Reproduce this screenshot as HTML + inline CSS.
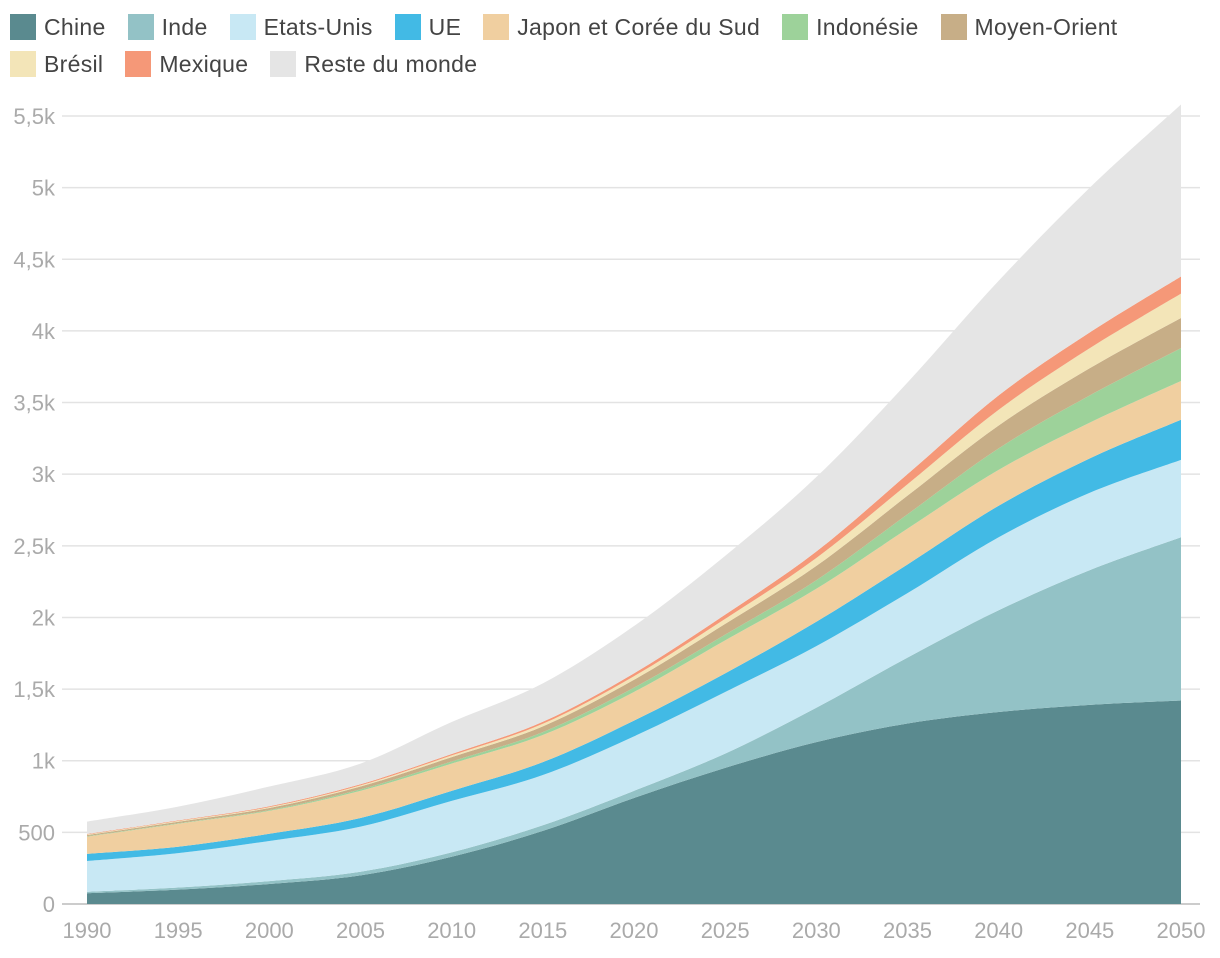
<!DOCTYPE html>
<html><head><meta charset="utf-8"><style>
body{margin:0;background:#fff;font-family:"Liberation Sans",sans-serif;}
.legend{position:absolute;left:10px;top:9px;width:1210px;font-size:23px;color:#444;letter-spacing:0.3px;}
.li{display:inline-flex;align-items:center;margin-right:22px;height:36px;}
.sw{width:26px;height:26px;margin-right:8px;display:inline-block;}
</style></head><body>
<div class="legend" id="legend"></div>
<svg id="chart" width="1220" height="958" style="position:absolute;left:0;top:0"></svg>
<script>
const years=[1990,1995,2000,2005,2010,2015,2020,2025,2030,2035,2040,2045,2050];
const seriesNames=["Chine","Inde","Etats-Unis","UE","Japon et Corée du Sud","Indonésie","Moyen-Orient","Brésil","Mexique","Reste du monde"];
const chine=[75,100,140,200,330,510,740,950,1130,1260,1340,1390,1420];
const inde=[10,15,20,25,30,40,50,100,240,460,710,940,1140];
const usa=[215,240,280,315,360,350,380,430,430,450,510,540,540];
const ue=[50,45,50,60,70,90,110,130,170,200,220,240,280];
const japon=[120,160,160,190,190,190,200,230,230,250,250,250,270];
const indonesie=[3,4,5,10,15,20,30,40,60,100,150,190,230];
const moyenOrient=[8,10,15,20,30,40,55,75,100,130,160,190,210];
const bresil=[4,5,6,8,12,18,25,35,55,80,110,140,170];
const mexique=[4,5,6,8,10,14,20,30,45,70,100,110,120];
const reste=[86,96,138,144,223,268,330,410,520,640,800,1010,1200];
const yTicks=[0,500,1000,1500,2000,2500,3000,3500,4000,4500,5000,5500];
const yTickLabels=["0","500","1k","1,5k","2k","2,5k","3k","3,5k","4k","4,5k","5k","5,5k"];
const xTicks=[1990,1995,2000,2005,2010,2015,2020,2025,2030,2035,2040,2045,2050];
const colors=["#5a8a8f","#93c2c6","#c8e8f4","#42bae5","#f0cfa0","#9dd29a","#c7ae87","#f3e5b8","#f59878","#e5e5e5"];
const series=[chine,inde,usa,ue,japon,indonesie,moyenOrient,bresil,mexique,reste];
const slugs=["chine","inde","etats-unis","ue","japon-coree","indonesie","moyen-orient","bresil","mexique","reste-du-monde"];
const x=v=>87+(v-1990)*(1181-87)/60;
const y=v=>904-v*(904-116)/5500;
const NS="http://www.w3.org/2000/svg";
const svg=document.getElementById('chart');
function mk(t,a){const e=document.createElementNS(NS,t);for(const k in a)e.setAttribute(k,a[k]);svg.appendChild(e);return e;}
function curve(pts){ // Catmull-Rom smoothing through data points
 let d='';
 for(let i=0;i<pts.length-1;i++){
  const p0=pts[Math.max(i-1,0)],p1=pts[i],p2=pts[i+1],p3=pts[Math.min(i+2,pts.length-1)];
  const c1=[p1[0]+(p2[0]-p0[0])/6,p1[1]+(p2[1]-p0[1])/6];
  const c2=[p2[0]-(p3[0]-p1[0])/6,p2[1]-(p3[1]-p1[1])/6];
  d+='C'+c1+' '+c2+' '+p2;
 }
 return d;
}
yTicks.forEach((t,i)=>{
 const l=mk('line',{x1:62,x2:1200,y1:y(t),y2:y(t),stroke:i==0?'#bbb':'#e3e3e3','stroke-width':1.5});
 
 
 const tx=mk('text',{x:55,y:y(t)+8,'text-anchor':'end','font-size':22,fill:'#aaa'});
 tx.textContent=yTickLabels[i];
 
 
});
let base=years.map(()=>0);
series.forEach((s,si)=>{
 const top=base.map((b,i)=>b+s[i]);
 const tp=years.map((yr,i)=>[x(yr),y(top[i])]);
 const bp=years.map((yr,i)=>[x(yr),y(base[i])]).reverse();
 let d='M'+tp[0]+curve(tp)+'L'+bp[0]+curve(bp)+'Z';
 const p=mk('path',{d:d,fill:colors[si]});
 
 
 base=top;
});
xTicks.forEach(t=>{
 const tx=mk('text',{x:x(t),y:938,'text-anchor':'middle','font-size':22,fill:'#aaa'});
 tx.textContent=t;
 
 
});
const lg=document.getElementById('legend');
seriesNames.forEach((n,i)=>{
 const d=document.createElement('span');d.className='li';
 
 
 d.innerHTML='<span class="sw" style="background:'+colors[i]+'"></span>'+n;
 lg.appendChild(d);
 if(i==6)lg.appendChild(document.createElement('br'));
});
</script>
</body></html>
